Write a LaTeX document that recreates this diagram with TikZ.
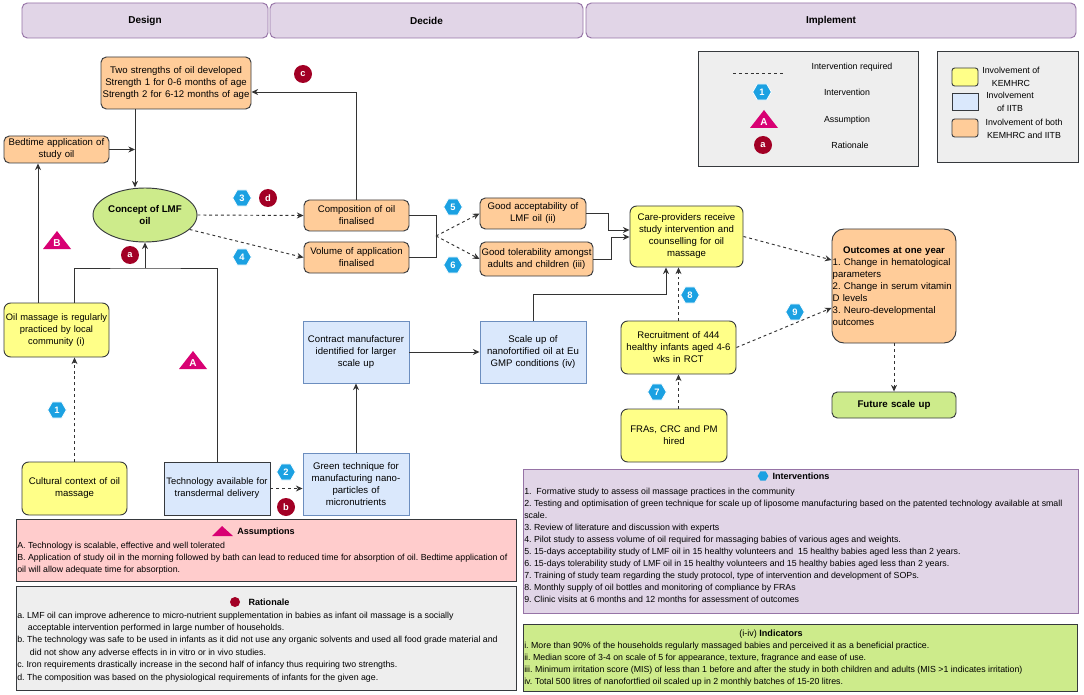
\documentclass[tikz,border=0pt]{standalone}
\usepackage{fontspec}
\setmainfont{Liberation Sans}
\usetikzlibrary{shapes.geometric,arrows.meta,calc}
\definecolor{yel}{HTML}{FFFF88}
\definecolor{blu}{HTML}{DAE8FC}
\definecolor{bluline}{HTML}{6C8EBF}
\definecolor{ora}{HTML}{FFCC99}
\definecolor{grn}{HTML}{CDEB8B}
\definecolor{dk}{HTML}{36393D}
\definecolor{pur}{HTML}{E1D5E7}
\definecolor{purline}{HTML}{9673A6}
\definecolor{lgr}{HTML}{EEEEEE}
\definecolor{pinkf}{HTML}{FFCCCC}
\definecolor{hexb}{HTML}{1BA1E2}
\definecolor{trim}{HTML}{D80073}
\definecolor{ratc}{HTML}{A20025}
\definecolor{lnc}{HTML}{333333}
\tikzset{
 base/.style={draw=dk, line width=0.7pt, align=center, inner sep=0.5pt, font=\fontsize{7.2}{9}\selectfont},
 yb/.style={base, fill=yel, rounded corners=5pt},
 ob/.style={base, fill=ora, rounded corners=4pt},
 bb/.style={base, fill=blu, draw=bluline},
 gb/.style={base, fill=grn, rounded corners=4pt},
 hdr/.style={base, fill=pur, draw=purline, rounded corners=4pt, font=\fontsize{7.5}{9}\selectfont\bfseries},
 legbox/.style={base, fill=lgr},
 botbox/.style={base},
 conn/.style={draw=lnc, line width=0.7pt},
 arr/.style={conn, -{Stealth[length=5pt,width=4.5pt]}},
 dsh/.style={arr, dash pattern=on 2.2pt off 2.2pt},
 hexs/.style={regular polygon, regular polygon sides=6, fill=hexb, draw=white, line width=0.6pt, text=white, inner sep=0pt, minimum size=14pt, font=\fontsize{7}{8}\selectfont\bfseries},
 circs/.style={circle, fill=ratc, text=white, inner sep=0pt, minimum size=13.5pt, font=\fontsize{7}{8}\selectfont\bfseries},
 legtxt/.style={align=center, inner sep=0pt, font=\fontsize{6.6}{9.5}\selectfont},
 bodytxt/.style={anchor=north west, align=left, inner sep=0pt, font=\fontsize{6.6}{9}\selectfont},
 headtxt/.style={inner sep=0pt, font=\fontsize{6.8}{8}\selectfont\bfseries},
}
\newcommand\bx[7]{%
 \pgfmathsetmacro\bw{(#4-#2)*0.75}\pgfmathsetmacro\bh{(#5-#3)*0.75}\pgfmathsetmacro\tw{(#4-#2)*0.75-1}%
 \node[#6, minimum width=\bw pt, minimum height=\bh pt, text width=\tw pt] (#1) at ({(#2+#4)/2},{(#3+#5)/2}) {#7};}
\newcommand\hexlab[4]{\node[hexs] (#1) at (#2,#3) {#4};}
\newcommand\ratlab[4]{\node[circs] (#1) at (#2,#3) {#4};}
\newcommand\trilab[4]{\fill[trim] (#2-14,#3+7) -- (#2+14,#3+7) -- (#2,#3-11) -- cycle;
 \node[text=white, inner sep=0pt, font=\fontsize{7.5}{8}\selectfont\bfseries] (#1) at (#2,#3+1) {#4};}
\begin{document}
\frenchspacing
\begin{tikzpicture}[x=0.75pt,y=-0.75pt]
\useasboundingbox (0,0) rectangle (1084,695);
\fill[white] (0,0) rectangle (1084,695);
% headers
\bx{hdes}{22}{3}{268}{38}{hdr}{Design}
\bx{hdec}{270}{3}{583}{38}{hdr}{Decide}
\bx{himp}{586}{3}{1076}{38}{hdr}{Implement}
% legend 1
\bx{leg1}{698}{51}{918}{166}{legbox}{}
\coordinate (ld1) at (733,73);
\coordinate (ld2) at (784,73);
\draw[conn, dash pattern=on 2.2pt off 2.2pt] (ld1) -- (ld2);
\node[legtxt] (lt1) at (852,67) {Intervention required};
\hexlab{lhex}{762}{92}{1}
\node[legtxt] (lt2) at (847,92) {Intervention};
\trilab{ltri}{764}{121}{A}
\node[legtxt] (lt3) at (847,120) {Assumption};
\ratlab{lrat}{763}{145}{a}
\node[legtxt] (lt4) at (850,145) {Rationale};
% legend 2
\bx{leg2}{937}{51}{1078}{162}{legbox}{}
\bx{sw1}{952}{68}{978}{86}{base, fill=yel, rounded corners=2pt}{}
\bx{sw2}{952}{93}{978}{110}{base, fill=blu}{}
\bx{sw3}{952}{119}{978}{137}{base, fill=ora, rounded corners=2pt}{}
\node[legtxt] (lt5) at (1011,77) {Involvement of\\KEMHRC};
\node[legtxt] (lt6) at (1010,102) {Involvement\\of IITB};
\node[legtxt] (lt7) at (1024,129) {Involvement of both\\KEMHRC and IITB};
% main nodes
\bx{twostr}{101}{57}{251}{109}{ob}{Two strengths of oil developed\\Strength 1 for 0-6 months of age\\Strength 2 for 6-12 months of age}
\bx{bedt}{4}{136}{109}{163}{ob}{Bedtime application of\\study oil}
\node[ellipse, draw=dk, fill=grn, line width=0.7pt, minimum width=66pt, minimum height=40.5pt, inner sep=0pt, align=center, font=\fontsize{7.3}{9}\selectfont\bfseries] (lmf) at (145,215) {Concept of LMF\\oil};
\bx{oilm}{4}{303}{109}{357}{yb, font=\fontsize{7}{9}\selectfont}{Oil massage is regularly\\practiced by local\\community (i)}
\bx{cult}{22}{462}{127}{515}{yb}{Cultural context of oil\\massage}
\bx{tech}{164}{462}{270}{515}{bb, draw=dk, font=\fontsize{7}{9}\selectfont}{Technology available for\\transdermal delivery}
\bx{gtech}{303}{453}{409}{515}{bb}{Green technique for\\manufacturing nano-\\particles of\\micronutrients}
\bx{contr}{303}{321}{409}{383}{bb}{Contract manufacturer\\identified for larger\\scale up}
\bx{scal}{480}{321}{586}{383}{bb}{Scale up of\\nanofortified oil at Eu\\GMP conditions (iv)}
\bx{compo}{304}{200}{409}{231}{ob}{Composition of oil\\finalised}
\bx{vol}{304}{242}{409}{273}{ob}{Volume of application\\finalised}
\bx{acc}{480}{198}{586}{229}{ob}{Good acceptability of\\LMF oil (ii)}
\bx{tol}{480}{242}{593}{276}{ob}{Good tolerability amongst\\adults and children (iii)}
\bx{care}{630}{206}{743}{267}{yb}{Care-providers receive\\study intervention and\\counselling for oil\\massage}
\bx{recr}{621}{321}{736}{374}{yb}{Recruitment of 444\\healthy infants aged 4-6\\wks in RCT}
\bx{fras}{621}{409}{727}{462}{yb}{FRAs, CRC and PM\\hired}
\bx{outc}{832}{229}{956}{343}{ob, align=left, rounded corners=9pt}{\makebox[\linewidth][c]{\bfseries Outcomes at one year}\\1. Change in hematological\\parameters\\2. Change in serum vitamin\\D levels\\3. Neuro-developmental\\outcomes}
\bx{fut}{832}{392}{956}{418}{gb, font=\fontsize{7.3}{9}\selectfont\bfseries}{Future scale up}
% connectors
\draw[arr] (compo.north) |- (twostr.east |- 0,92);
\draw[arr] (twostr.south -| 135,0) -- (lmf.north -| 135,0);
\draw[arr] (bedt.east) -- (bedt.east -| 135,0);
\draw[arr] (oilm.north -| 38,0) -- (bedt.south -| 38,0);
\coordinate (junc) at (145,268);
\draw[conn] (oilm.north -| cult.north) |- (junc) -| (tech.north);
\draw[arr] (junc) -- (lmf.south);
\draw[dsh] (cult.north) -- (oilm.south -| cult.north);
\draw[dsh] (lmf.east) -- (compo.west);
\draw[dsh] (lmf.-18) -- (vol.west);
\draw[conn] (compo.east) -- ++(27,0) |- (vol.east);
\coordinate (br) at (436,236);
\draw[dsh] (br) -- (acc.west);
\draw[dsh] (br) -- (tol.west);
\draw[arr] (acc.east) -- ++(22,0) |- (care.west |- 0,230);
\draw[arr] (tol.east) -- ++(18,0) |- (care.west |- 0,237);
\draw[dsh] (care.east) -- (outc.west |- 0,260);
\draw[arr] (scal.north) -- ++(0,-26) -| (care.south -| 666,0);
\draw[dsh] (recr.north) -- (care.south -| recr.north);
\draw[dsh] (recr.east) -- (outc.west |- 0,308);
\draw[dsh] (recr.south |- fras.north) -- (recr.south);
\draw[dsh] (outc.south) -- (fut.north);
\draw[dsh] (tech.east) -- (gtech.west |- tech.east);
\draw[arr] (gtech.north) -- (contr.south);
\draw[arr] (contr.east) -- (scal.west);
% labels
\hexlab{h1}{57}{410}{1}
\hexlab{h2}{286}{472}{2}
\hexlab{h3}{242}{198}{3}
\hexlab{h4}{242}{257}{4}
\hexlab{h5}{453}{207}{5}
\hexlab{h6}{453}{265}{6}
\hexlab{h7}{657}{392}{7}
\hexlab{h8}{690}{295}{8}
\hexlab{h9}{795}{312}{9}
\ratlab{ra}{130}{255}{a}
\ratlab{rb}{286}{507}{b}
\ratlab{rc}{303}{74}{c}
\ratlab{rd}{268}{198}{d}
\trilab{ta}{193}{362}{A}
\trilab{tb}{57}{242}{B}
% assumptions box
\bx{asb}{16}{519}{516}{581}{botbox, fill=pinkf}{}
\fill[trim] (212,536) -- (233,536) -- (222,526) -- cycle;
\node[headtxt] (ash) at (266,532) {Assumptions};
\node[bodytxt] (asx) at (17,541.5) {A. Technology is scalable, effective and well tolerated\\
B. Application of study oil in the morning followed by bath can lead to reduced time for absorption of oil. Bedtime application of\\
oil will allow adequate time for absorption.};
% rationale box
\bx{rab}{16}{586}{516}{690}{botbox, fill=lgr}{}
\fill[ratc] (235,602) circle (5);
\node[headtxt] (rah) at (269,602) {Rationale};
\node[bodytxt, font=\fontsize{6.6}{9.3}\selectfont] (rax) at (17,611.5) {a. LMF oil can improve adherence to micro-nutrient supplementation in babies as infant oil massage is a socially\\
\hspace*{8pt}acceptable intervention performed in large number of households.\\
b. The technology was safe to be used in infants as it did not use any organic solvents and used all food grade material and\\
\hspace*{9.5pt}did not show any adverse effects in in vitro or in vivo studies.\\
c. Iron requirements drastically increase in the second half of infancy thus requiring two strengths.\\
d. The composition was based on the physiological requirements of infants for the given age.};
% interventions box
\bx{inb}{523}{469}{1078}{613}{botbox, fill=pur, draw=purline}{}
\node[regular polygon, regular polygon sides=6, fill=hexb, inner sep=0pt, minimum size=8pt] (inic) at (763,476) {};
\node[headtxt] (inh) at (801,476) {Interventions};
\node[bodytxt] (inx) at (524,487.5) {1.\ \ Formative study to assess oil massage practices in the community\\
2. Testing and optimisation of green technique for scale up of liposome manufacturing based on the patented technology available at small\\
scale.\\
3. Review of literature and discussion with experts\\
4. Pilot study to assess volume of oil required for massaging babies of various ages and weights.\\
5. 15-days acceptability study of LMF oil in 15 healthy volunteers and\ \ 15 healthy babies aged less than 2 years.\\
6. 15-days tolerability study of LMF oil in 15 healthy volunteers and 15 healthy babies aged less than 2 years.\\
7. Training of study team regarding the study protocol, type of intervention and development of SOPs.\\
8. Monthly supply of oil bottles and monitoring of compliance by FRAs\\
9. Clinic visits at 6 months and 12 months for assessment of outcomes};
% indicators box
\bx{idb}{523}{624}{1077}{691}{botbox, fill=grn}{}
\node[inner sep=0pt, font=\fontsize{6.8}{8}\selectfont] (idh) at (771,634) {(i-iv) \textbf{Indicators}};
\node[bodytxt] (idx) at (524,642) {i. More than 90\% of the households regularly massaged babies and perceived it as a beneficial practice.\\
ii. Median score of 3-4 on scale of 5 for appearance, texture, fragrance and ease of use.\\
iii. Minimum irritation score (MIS) of less than 1 before and after the study in both children and adults (MIS >1 indicates irritation)\\
iv. Total 500 litres of nanofortfied oil scaled up in 2 monthly batches of 15-20 litres.};
\end{tikzpicture}
\end{document}
